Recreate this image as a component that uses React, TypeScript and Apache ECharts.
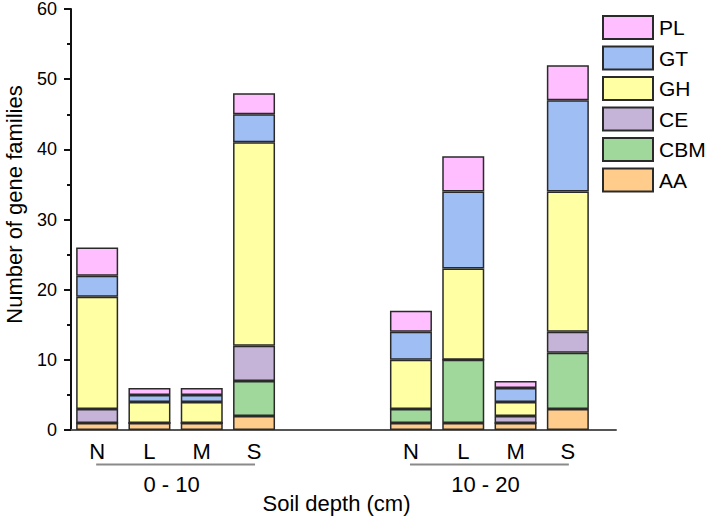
import React, { useEffect, useRef } from "react";
import * as echarts from "echarts";

const categories = ["N", "L", "M", "S", "", "", "N", "L", "M", "S"];
const groupRanges = [
  [0, 3],
  [6, 9],
];
const groupLabels = ["0 - 10", "10 - 20"];

const seriesNames = ["AA", "CBM", "CE", "GH", "GT", "PL"];
const AA = [1, 1, 1, 2, null, null, 1, 1, 1, 3];
const CBM = [0, 0, 0, 5, null, null, 2, 9, 0, 8];
const CE = [2, 0, 0, 5, null, null, 0, 0, 1, 3];
const GH = [16, 3, 3, 29, null, null, 7, 13, 2, 20];
const GT = [3, 1, 1, 4, null, null, 4, 11, 2, 13];
const PL = [4, 1, 1, 3, null, null, 3, 5, 1, 5];
const seriesValues = [AA, CBM, CE, GH, GT, PL];
const seriesColors = ["#FFCC8C", "#A0D89C", "#C6B4D8", "#FFFFA4", "#9EBEF4", "#FFBEFF"];
const legendOrder = ["PL", "GT", "GH", "CE", "CBM", "AA"];

const FONT = "'Liberation Sans', Arial, sans-serif";

export default function App() {
  const ref = useRef<HTMLDivElement>(null);

  useEffect(() => {
    if (!ref.current) return;
    const chart = echarts.init(ref.current, undefined, { renderer: "svg" });

    const barSeries = seriesNames.map((name, si) => ({
      name,
      type: "bar",
      stack: "total",
      barWidth: 42,
      xAxisIndex: 0,
      yAxisIndex: 0,
      data: seriesValues[si],
      itemStyle: {
        color: seriesColors[si],
        borderColor: "#2a2a2a",
        borderWidth: 1.5,
      },
      silent: true,
    }));

    const bracketSeries = {
      type: "custom",
      silent: true,
      clip: false,
      xAxisIndex: 0,
      yAxisIndex: 0,
      encode: { x: [0, 1], y: 2 },
      data: groupRanges.map((r) => [r[0], r[1], 0]),
      renderItem: (params: any, api: any) => {
        const a = api.coord([api.value(0), 0]);
        const b = api.coord([api.value(1), 0]);
        return {
          type: "group",
          children: [
            {
              type: "line",
              shape: { x1: a[0] - 1, y1: a[1] + 34.5, x2: b[0] + 1, y2: b[1] + 34.5 },
              style: { stroke: "#8a8a8a", lineWidth: 2 },
            },
            {
              type: "text",
              style: {
                text: groupLabels[params.dataIndex],
                x: (a[0] + b[0]) / 2 - 4,
                y: a[1] + 54,
                align: "center",
                verticalAlign: "middle",
                fontSize: 22,
                fontFamily: FONT,
                fill: "#000",
              },
            },
          ],
        };
      },
    };

    chart.setOption({
      animation: false,
      textStyle: { fontFamily: FONT },
      grid: [
        { left: 71, top: 9, width: 523, height: 421, containLabel: false, outerBoundsMode: "none" },
        { left: 71, top: 9, width: 545, height: 421, containLabel: false, outerBoundsMode: "none" },
      ],
      legend: {
        data: legendOrder,
        orient: "vertical",
        left: 597,
        top: 10,
        itemWidth: 50,
        itemHeight: 23,
        itemGap: 5.5,
        icon: "rect",
        selectedMode: false,
        textStyle: { fontSize: 21, color: "#000", fontFamily: FONT, padding: [0, 0, 0, 1] },
      },
      xAxis: [
        {
          type: "category",
          gridIndex: 0,
          data: categories,
          boundaryGap: true,
          axisTick: { show: false },
          axisLine: { show: false },
          axisLabel: {
            interval: 0,
            margin: 10,
            fontSize: 22,
            color: "#000",
            fontFamily: FONT,
          },
        },
        {
          type: "value",
          gridIndex: 1,
          min: 0,
          max: 1,
          splitLine: { show: false },
          axisTick: { show: false },
          axisLabel: { show: false },
          axisLine: { show: true, onZero: false, lineStyle: { color: "#555", width: 2 } },
          name: "Soil depth (cm)",
          nameLocation: "middle",
          nameGap: 62,
          nameTextStyle: { fontSize: 22, color: "#000", fontFamily: FONT, padding: [0, 14, 0, 0] },
        },
      ],
      yAxis: [
        {
          type: "value",
          gridIndex: 0,
          min: 0,
          max: 60,
          interval: 10,
          splitLine: { show: false },
          axisLine: { show: true, lineStyle: { color: "#111", width: 2 } },
          axisTick: { show: true, length: 7, lineStyle: { color: "#111", width: 2 } },
          minorTick: { show: true, splitNumber: 2, length: 4, lineStyle: { color: "#111", width: 2 } },
          axisLabel: { fontSize: 18, color: "#000", margin: 14, fontFamily: FONT },
          name: "Number of gene families",
          nameLocation: "middle",
          nameGap: 46,
          nameTextStyle: { fontSize: 22, color: "#000", fontFamily: FONT, padding: [0, 0, 0, 30] },
        },
        {
          type: "value",
          gridIndex: 1,
          min: 0,
          max: 1,
          show: false,
        },
      ],
      series: [...barSeries, bracketSeries],
    });

    return () => chart.dispose();
  }, []);

  return (
    <div
      ref={ref}
      style={{ position: "fixed", left: 0, top: 0, width: 706, height: 516, background: "#fff" }}
    />
  );
}
